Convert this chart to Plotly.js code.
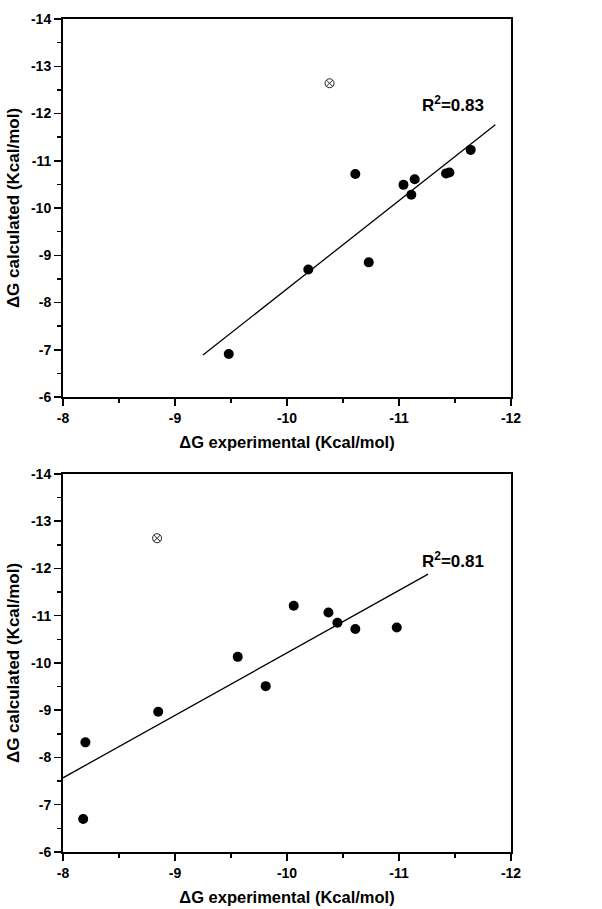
<!DOCTYPE html>
<html><head><meta charset="utf-8">
<script src="https://cdn.plot.ly/plotly-3.0.1.min.js"></script>
<style>body{margin:0;background:#fff}#g{width:602px;height:909px}</style>
</head><body><div id="g"></div>
<script>
// Top panel
var topX = [-9.48, -10.19, -10.61, -10.73, -11.04, -11.11, -11.14, -11.42, -11.45, -11.64];
var topY = [-6.91, -8.70, -10.72, -8.85, -10.49, -10.28, -10.61, -10.73, -10.75, -11.23];
var topOutX = [-10.38];
var topOutY = [-12.64];
var topFitX = [-9.25, -11.86];
var topFitY = [-6.89, -11.76];
var topR2 = "R<sup>2</sup>=0.83";
// Bottom panel
var botX = [-8.18, -8.20, -8.85, -9.56, -9.81, -10.06, -10.37, -10.45, -10.61, -10.98];
var botY = [-6.70, -8.32, -8.97, -10.13, -9.51, -11.21, -11.07, -10.85, -10.72, -10.75];
var botOutX = [-8.84];
var botOutY = [-12.64];
var botFitX = [-8.0, -11.26];
var botFitY = [-7.57, -11.88];
var botR2 = "R<sup>2</sup>=0.81";
// Ticks
var xTickVals = [-8, -9, -10, -11, -12];
var xTickText = ["-8", "-9", "-10", "-11", "-12"];
var yTickVals = [-14, -13, -12, -11, -10, -9, -8, -7, -6];
var yTickText = ["-14", "-13", "-12", "-11", "-10", "-9", "-8", "-7", "-6"];
var xTitle = "ΔG experimental (Kcal/mol)";
var yTitle = "ΔG calculated (Kcal/mol)";

var FONT = "Liberation Sans, Arial, sans-serif";
function pts(x, y, xa, ya) {
  return {x: x, y: y, xaxis: xa, yaxis: ya, mode: "markers", type: "scatter",
    marker: {color: "#000", size: 10}, showlegend: false, hoverinfo: "skip"};
}
function outl(x, y, xa, ya) {
  return {x: x, y: y, xaxis: xa, yaxis: ya, mode: "markers", type: "scatter",
    marker: {symbol: "circle-x-open", color: "#222", size: 9, line: {width: 1, color: "#222"}},
    showlegend: false, hoverinfo: "skip"};
}
function fit(x, y, xa, ya) {
  return {x: x, y: y, xaxis: xa, yaxis: ya, mode: "lines", type: "scatter",
    line: {color: "#000", width: 1.3}, showlegend: false, hoverinfo: "skip"};
}
var data = [
  fit(topFitX, topFitY, "x", "y"), pts(topX, topY, "x", "y"), outl(topOutX, topOutY, "x", "y"),
  fit(botFitX, botFitY, "x2", "y2"), pts(botX, botY, "x2", "y2"), outl(botOutX, botOutY, "x2", "y2")
];
function xax(anchor) {
  return {anchor: anchor, range: [-8, -12], tickvals: xTickVals, ticktext: xTickText,
    ticks: "outside", ticklen: 7, tickwidth: 1.5, tickcolor: "#000",
    minor: {dtick: 0.5, tick0: -8, ticks: "outside", ticklen: 4, tickwidth: 1.5, tickcolor: "#000", showgrid: false},
    showline: true, linewidth: 2, linecolor: "#000", mirror: true, showgrid: false, zeroline: false,
    tickfont: {family: FONT, size: 14, color: "#000", weight: "bold"},
    title: {text: xTitle, standoff: 12, font: {family: FONT, size: 16.5, color: "#000", weight: "bold"}}};
}
function yax(anchor, dom) {
  return {anchor: anchor, domain: dom, range: [-6, -14], tickvals: yTickVals, ticktext: yTickText,
    ticks: "outside", ticklen: 7, tickwidth: 1.5, tickcolor: "#000",
    minor: {dtick: 0.5, tick0: -6, ticks: "outside", ticklen: 4, tickwidth: 1.5, tickcolor: "#000", showgrid: false},
    showline: true, linewidth: 2, linecolor: "#000", mirror: true, showgrid: false, zeroline: false,
    tickfont: {family: FONT, size: 14, color: "#000", weight: "bold"},
    title: {text: yTitle, standoff: 7, font: {family: FONT, size: 17, color: "#000", weight: "bold"}}};
}
var layout = {
  width: 602, height: 909, paper_bgcolor: "#fff", plot_bgcolor: "#fff",
  margin: {l: 63, r: 91, t: 19, b: 57},
  xaxis: xax("y"), yaxis: yax("x", [0.5462, 1]),
  xaxis2: xax("y2"), yaxis2: yax("x2", [0, 0.4538]),
  annotations: [
    {x: -11.48, y: -12.2, xref: "x", yref: "y", text: topR2, showarrow: false,
     font: {family: FONT, size: 17, color: "#000", weight: "bold"}},
    {x: -11.48, y: -12.19, xref: "x2", yref: "y2", text: botR2, showarrow: false,
     font: {family: FONT, size: 17, color: "#000", weight: "bold"}}
  ]
};
Plotly.newPlot("g", data, layout, {staticPlot: true});
</script></body></html>
